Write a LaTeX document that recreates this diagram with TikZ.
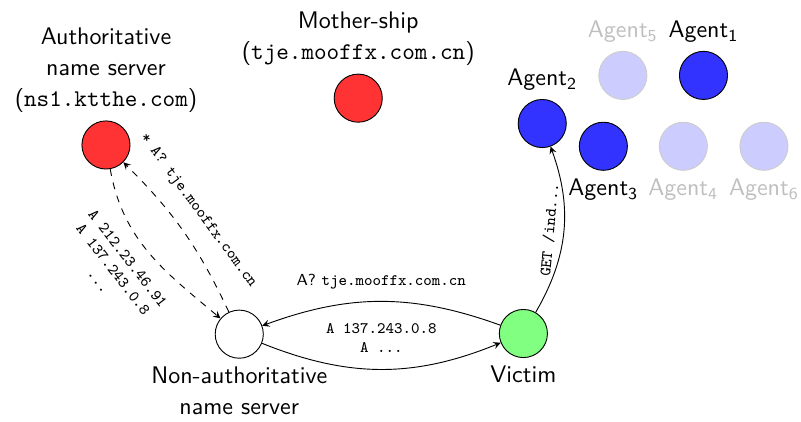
\documentclass[tikz,border=0pt]{standalone}
\begin{document}
\begin{tikzpicture}[font=\sffamily\fontsize{10.5}{13.6}\selectfont, >=stealth,
  host/.style={circle, draw, minimum size=0.74cm, inner sep=0pt},
  evil/.style={host, fill=red!80},
  agent/.style={host, fill=blue!80},
  idle/.style={host, draw=black!20, fill=blue!20},
  msg/.style={font=\scriptsize\ttfamily, align=center}]
\useasboundingbox (0,0) rectangle (12.32,6.48);
\node[evil, label={[align=center]above:Authoritative\\name server\\(\texttt{ns1.ktthe.com})}] (auth) at (1.63,4.25) {};
\node[evil, label={[align=center]above:Mother-ship\\(\texttt{tje.mooffx.com.cn})}] (ship) at (5.51,4.97) {};
\node[host, label={[align=center]below:Non-authoritative\\name server}] (resolver) at (3.68,1.34) {};
\node[host, fill=green!50, label=below:Victim] (victim) at (8.05,1.35) {};
\node[agent, label=above:Agent\textsubscript{2}] (agent2) at (8.34,4.58) {};
\node[agent, label=above:Agent\textsubscript{1}] (agent1) at (10.82,5.32) {};
\node[agent, label=below:Agent\textsubscript{3}] (agent3) at (9.28,4.23) {};
\node[idle, label={[black!25]above:Agent\textsubscript{5}}] (agent5) at (9.58,5.32) {};
\node[idle, label={[black!25]below:Agent\textsubscript{4}}] (agent4) at (10.51,4.23) {};
\node[idle, label={[black!25]below:Agent\textsubscript{6}}] (agent6) at (11.75,4.23) {};
\draw[->, dashed] (resolver) to[bend right=10] node[msg, sloped, above=4pt, pos=0.55] {* A? tje.mooffx.com.cn} (auth);
\draw[->, dashed] (auth) to[out=-80, in=140] node[msg, sloped, below=3pt, pos=0.45] {A 212.23.46.91\\A 137.243.0.8\\...} (resolver);
\draw[->] (victim) to[bend right=20] node[above=2pt] {\scriptsize A? \texttt{tje.mooffx.com.cn}} (resolver);
\draw[->] (resolver) to[bend right=22] node[msg, above=4pt] {A 137.243.0.8\\A ...} (victim);
\draw[->] (victim) to[bend right=25] node[msg, sloped, above] {GET /ind...} (agent2);
\end{tikzpicture}
\end{document}
